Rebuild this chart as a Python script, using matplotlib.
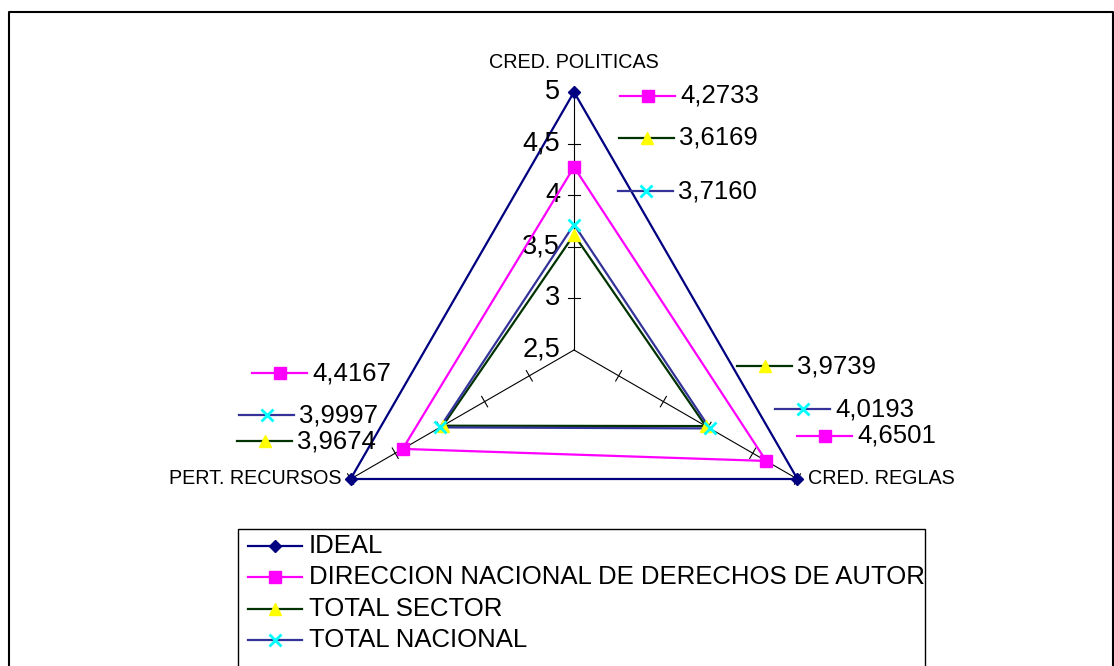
import numpy as np
import matplotlib
matplotlib.use('Agg')
import matplotlib.pyplot as plt
from matplotlib.patches import Rectangle
from matplotlib.lines import Line2D

plt.rcParams['font.family'] = ['Liberation Sans', 'DejaVu Sans']

# data
categories = ['CRED. POLITICAS', 'CRED. REGLAS', 'PERT. RECURSOS']
series_names = ['IDEAL', 'DIRECCION NACIONAL DE DERECHOS DE AUTOR', 'TOTAL SECTOR', 'TOTAL NACIONAL']
ideal = [5.0, 5.0, 5.0]
direccion = [4.2733, 4.6501, 4.4167]
sector = [3.6169, 3.9739, 3.9674]
nacional = [3.7160, 4.0193, 3.9997]
rticks = [2.5, 3.0, 3.5, 4.0, 4.5, 5.0]
rmin, rmax = 2.5, 5.0

# styles
line_cols = ['#000080', '#FF00FF', '#003300', '#333399']
mark_cols = ['#000080', '#FF00FF', '#FFFF00', '#00FFFF']
markers = ['D', 's', '^', 'x']
msizes = [6, 8, 9, 9]

# where Excel put the data labels (pixel position of the key's left end)
label_pos = {
    1: [(620, 96), (797, 436), (252, 373)],
    2: [(619, 138), (737, 366), (237, 441)],
    3: [(618, 191), (775, 409), (239, 415)],
}

W, H = 1114, 666
R = 258.0          # radius in pixels
cx, cy = 574, 350  # centre in pixels (from top)


def fx(x):
    return x / W


def fy(y):
    return 1 - y / H


angles = np.deg2rad([90, -30, 210])


def to_xy(vals):
    r = (np.asarray(vals) - rmin) / (rmax - rmin)
    return r * np.cos(angles), r * np.sin(angles)


fig = plt.figure(figsize=(W / 100, H / 100), dpi=100)
ax = fig.add_axes([0, 0, 1, 1])
ax.set_xlim(-cx / R, (W - cx) / R)
ax.set_ylim(-(H - cy) / R, cy / R)
ax.axis('off')

# axes lines and ticks
tl = 6 / R
for a in angles:
    ax.plot([0, np.cos(a)], [0, np.sin(a)], color='black', lw=0.8, zorder=1)
    for t in rticks[1:]:
        r = (t - rmin) / (rmax - rmin)
        px, py = r * np.cos(a), r * np.sin(a)
        nx, ny = -np.sin(a), np.cos(a)
        ax.plot([px - tl * nx, px + tl * nx], [py - tl * ny, py + tl * ny],
                color='black', lw=0.8, zorder=1)

# radial tick labels
for t in rticks:
    r = (t - rmin) / (rmax - rmin)
    ax.text(-14 / R, r, ('%g' % t).replace('.', ','), ha='right', va='center', fontsize=19.5)

# category labels
ax.text(0, 1 + 29 / R, categories[0], ha='center', va='center', fontsize=14.2)
x1, y1 = np.cos(angles[1]), np.sin(angles[1])
ax.text(x1 + 11 / R, y1, categories[1], ha='left', va='center', fontsize=14.2)
x2, y2 = np.cos(angles[2]), np.sin(angles[2])
ax.text(x2 - 9 / R, y2, categories[2], ha='right', va='center', fontsize=14.2)

# series
all_series = [ideal, direccion, sector, nacional]
for i, vals in enumerate(all_series):
    x, y = to_xy(vals)
    ax.plot(np.append(x, x[0]), np.append(y, y[0]), color=line_cols[i], lw=1.6, zorder=2 + i)
    ax.plot(x, y, ls='none', marker=markers[i], ms=msizes[i], color=mark_cols[i],
            mec=mark_cols[i], mew=2 if markers[i] == 'x' else 1, zorder=6 + i)


def key(x0, y, i, length=55):
    fig.add_artist(Line2D([fx(x0), fx(x0 + length)], [fy(y), fy(y)],
                          color=line_cols[i], lw=1.6, transform=fig.transFigure))
    fig.add_artist(Line2D([fx(x0 + length / 2)], [fy(y)], ls='none', marker=markers[i],
                          ms=msizes[i], color=mark_cols[i], mec=mark_cols[i],
                          mew=2 if markers[i] == 'x' else 1, transform=fig.transFigure))


# data labels with legend keys
for i in (1, 2, 3):
    for j, (x0, y) in enumerate(label_pos[i]):
        key(x0, y, i)
        txt = ('%.4f' % all_series[i][j]).replace('.', ',')
        fig.text(fx(x0 + 60), fy(y), txt, ha='left', va='center', fontsize=18.5)

# legend box
fig.add_artist(Rectangle((fx(238), fy(700)), fx(925) - fx(238), fy(529) - fy(700),
                         fill=False, ec='black', lw=1, transform=fig.transFigure))
leg_y = [546, 577, 609, 640]
for i, name in enumerate(series_names):
    key(248, leg_y[i], i, length=54)
    fig.text(fx(309), fy(leg_y[i]), name, ha='left', va='center', fontsize=18.5)

# chart outer frame
fig.add_artist(Line2D([fx(9), fx(9), fx(1113), fx(1113)], [fy(700), fy(12), fy(12), fy(700)],
                      color='black', lw=1.5, transform=fig.transFigure))

fig.savefig('out.png', dpi=100)
